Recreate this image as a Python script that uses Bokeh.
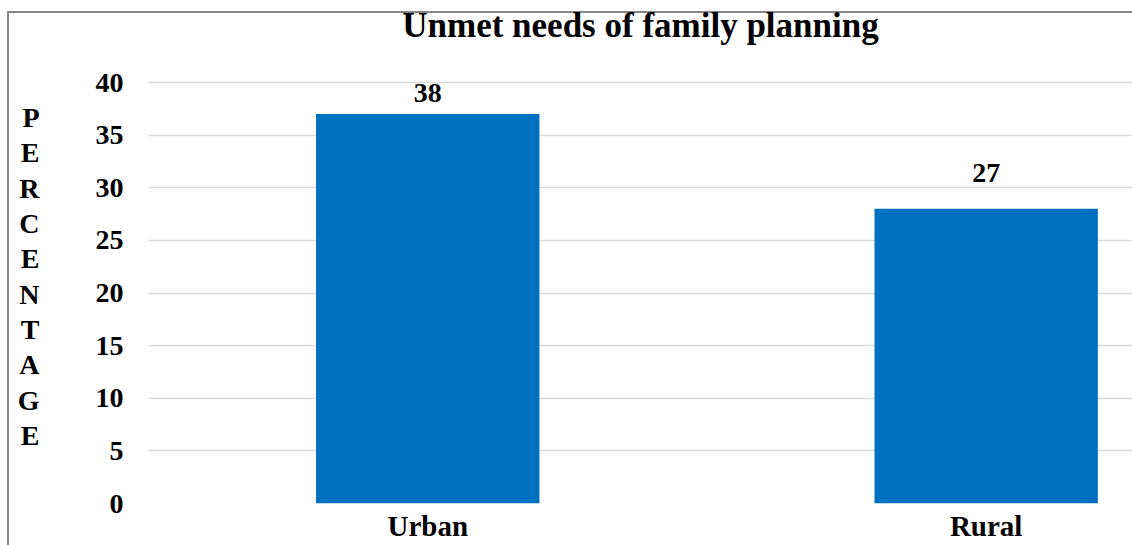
from bokeh.plotting import figure
from bokeh.models import Range1d, FixedTicker, ColumnDataSource
from bokeh.embed import file_html
from bokeh.resources import INLINE
from bokeh.core.properties import value

# ---- data ----
categories = ["Urban", "Rural"]
values = [37, 28]
value_labels = ["38", "27"]
y_ticks = [0, 5, 10, 15, 20, 25, 30, 35, 40]
axis_title = "PERCENTAGE"
title_text = "Unmet needs of family planning"

# ---- style ----
label_lift = [21, 36]          # px lift of each value label
FONT = "Liberation Serif"
GRID = "#d9d9d9"
BAR = "#0070c0"
BORDER = "#868686"
Y_MAX = 43.14
X_MAX = 1.762

positions = [i + 0.5 for i in range(len(categories))]

src = ColumnDataSource(dict(
    x=positions, top=values, lab=value_labels,
    off=[-v for v in label_lift],
))

p = figure(width=1132, height=545, output_backend="svg", toolbar_location=None,
           x_range=Range1d(0, X_MAX), y_range=Range1d(0, Y_MAX),
           min_border_left=148, min_border_right=0,
           min_border_top=49, min_border_bottom=42)

p.styles = {
    "background-image": f"linear-gradient({BORDER},{BORDER}), linear-gradient({BORDER},{BORDER})",
    "background-size": "2px 100%, 100% 2px",
    "background-position": "7px 11px, 7px 11px",
    "background-repeat": "no-repeat",
}
p.border_fill_color = None
p.background_fill_color = "white"
p.outline_line_color = None

p.title.text = title_text
p.title.align = "center"
p.title.vertical_align = "top"
p.title.text_font = FONT
p.title.text_font_size = "35px"
p.title.text_font_style = "bold"
p.title.text_color = "black"
p.title.standoff = 6

p.vbar(x="x", top="top", width=0.4, source=src, fill_color=BAR, line_color=None)

p.text(x="x", y="top", text="lab", y_offset="off", source=src,
       text_align="center", text_baseline="alphabetic",
       text_font=value(FONT), text_font_size="28px", text_font_style="bold",
       text_color="black")

# grid
p.xgrid.visible = False
p.ygrid.ticker = FixedTicker(ticks=y_ticks)
p.ygrid.grid_line_color = GRID
p.ygrid.grid_line_width = 1.6

# axes
for ax in (p.xaxis[0], p.yaxis[0]):
    ax.axis_line_color = None
    ax.major_tick_line_color = None
    ax.minor_tick_line_color = None
    ax.major_label_text_font = FONT
    ax.major_label_text_font_style = "bold"
    ax.major_label_text_color = "black"
    ax.major_tick_in = 0
    ax.major_tick_out = 0

p.xaxis.ticker = FixedTicker(ticks=positions)
p.xaxis.major_label_overrides = {pos: c for pos, c in zip(positions, categories)}
p.xaxis.major_label_text_font_size = "29px"
p.xaxis.major_label_standoff = 6

ya = p.yaxis[0]
ya.ticker = FixedTicker(ticks=y_ticks)
ya.major_label_text_font_size = "28px"
ya.major_label_standoff = 25
ya.axis_label = "\n".join(axis_title)
ya.axis_label_orientation = "horizontal"
ya.axis_label_text_font = FONT
ya.axis_label_text_font_size = "28px"
ya.axis_label_text_font_style = "bold"
ya.axis_label_text_color = "black"
ya.axis_label_text_line_height = 1.14
ya.axis_label_standoff = 53

open("out.html", "w").write(file_html(p, INLINE))
